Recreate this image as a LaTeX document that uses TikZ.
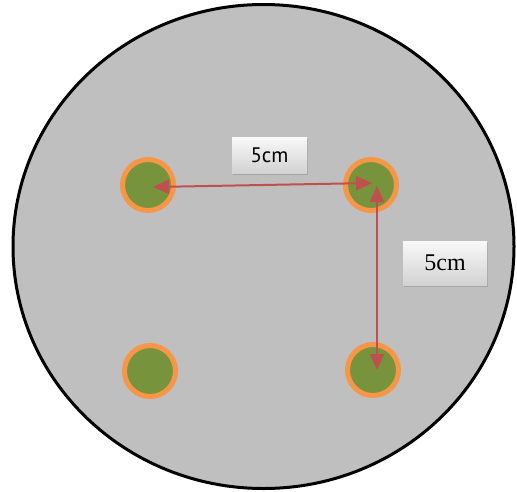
\documentclass[tikz,border=0pt]{standalone}
\usepackage{fontspec}
\setmainfont{Liberation Serif}
\newfontfamily\labsans{PT Sans}
\usetikzlibrary{shadows,arrows.meta}
\definecolor{bggray}{HTML}{BFBFBF}
\definecolor{olive}{HTML}{77933C}
\definecolor{ring}{HTML}{F79646}
\definecolor{arrred}{HTML}{C0504D}
\tikzset{
  hole/.style={circle, fill=olive, draw=ring, line width=5pt, minimum size=51pt, inner sep=0pt},
  dimarrow/.style={draw=arrred, line width=2pt, {Triangle[length=16pt,width=14pt]}-{Triangle[length=16pt,width=14pt]}},
  labbox/.style={rectangle, top color=gray!5, bottom color=gray!35, drop shadow={shadow xshift=1pt, shadow yshift=-2pt, opacity=0.4}, inner sep=0pt}
}
\begin{document}
\begin{tikzpicture}[x=1pt,y=-1pt]
\useasboundingbox (0,0) rectangle (517,491);
\draw[fill=bggray, line width=3pt] (263.5,246.5) ellipse [x radius=250.5, y radius=242];
\node[hole] (tl) at (148,185) {};
\node[hole] (tr) at (371,185) {};
\node[hole] (bl) at (150,371) {};
\node[hole] (br) at (373,370) {};
\coordinate (a1) at (153,187);
\coordinate (a2) at (372,183);
\coordinate (v1) at (377,186);
\coordinate (v2) at (377,370);
\draw[dimarrow] (a1) -- (a2);
\draw[dimarrow] (v1) -- (v2);
\node[labbox, minimum width=75pt, minimum height=36pt, font=\labsans\fontsize{21}{23}\selectfont] (l1) at (269.5,155) {5cm};
\node[labbox, minimum width=84pt, minimum height=44pt, font=\fontsize{24}{26}\selectfont] (l2) at (445,263) {5cm};
\end{tikzpicture}
\end{document}
